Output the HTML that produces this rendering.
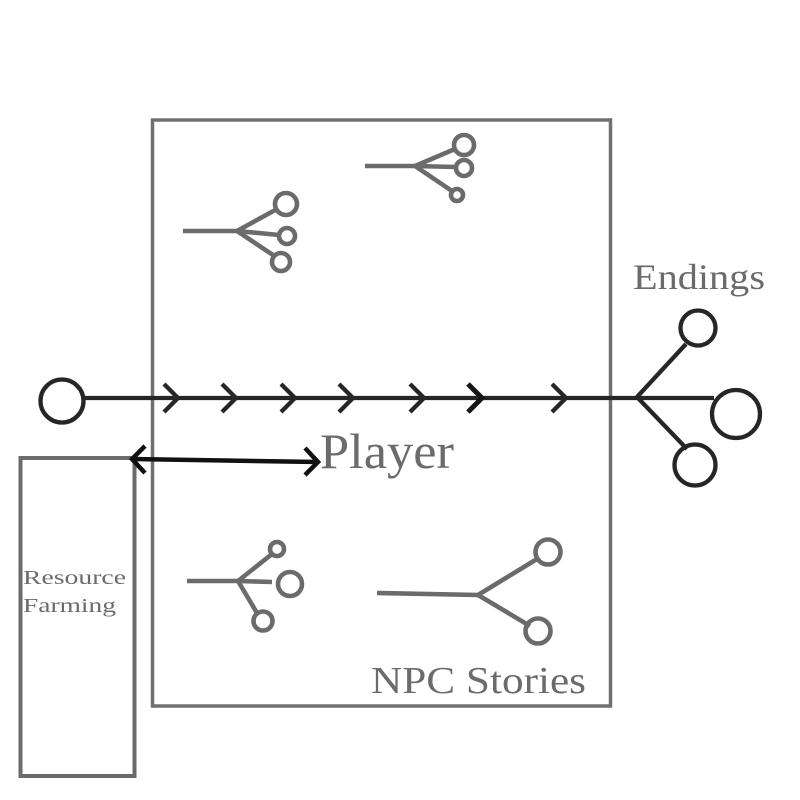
<!DOCTYPE html>
<html><head><meta charset="utf-8"><style>
html,body{margin:0;padding:0;background:#fff;}
svg{display:block;}
text{font-family:"Liberation Serif",serif;fill:#6b6b6b;}
</style></head><body>
<svg width="800" height="800" viewBox="0 0 800 800" xmlns="http://www.w3.org/2000/svg">
<rect x="0" y="0" width="800" height="800" fill="#fff"/>
<!-- main box -->
<rect x="152.5" y="120" width="458" height="586" fill="none" stroke="#707070" stroke-width="3.5"/>
<!-- resource box -->
<rect x="20.5" y="458" width="114" height="318" fill="none" stroke="#6b6b6b" stroke-width="4"/>
<text x="23" y="584" font-size="20" textLength="103" lengthAdjust="spacingAndGlyphs">Resource</text>
<text x="23" y="612" font-size="20" textLength="93" lengthAdjust="spacingAndGlyphs">Farming</text>

<!-- main timeline -->
<g stroke="#262626" stroke-width="4.3" fill="none" stroke-linecap="butt">
<circle cx="62" cy="401" r="21.5"/>
<line x1="84" y1="398" x2="714" y2="398"/>
<polyline points="164,384 178,398 164,412"/>
<polyline points="222,384 236,398 222,412"/>
<polyline points="281,384 295,398 281,412"/>
<polyline points="339,384 353,398 339,412"/>
<polyline points="410,384 424,398 410,412"/>
<polyline points="468,384 482,398 468,412" stroke-width="5" stroke="#161616"/>
<polyline points="552,384 566,398 552,412"/>
<!-- endings fork -->
<line x1="637" y1="397" x2="686" y2="344"/>
<line x1="637" y1="397" x2="687" y2="449"/>
<circle cx="698" cy="328" r="17.5"/>
<circle cx="736" cy="414" r="24"/>
<circle cx="695" cy="465" r="20.5"/>
</g>
<!-- double arrow -->
<g stroke="#111" stroke-width="4.5" fill="none">
<line x1="132" y1="459" x2="318" y2="462"/>
<polyline points="145,446 132,459 145,473"/>
<polyline points="305,448 318,462 305,475"/>
</g>
<text x="320" y="468" font-size="50" textLength="134" lengthAdjust="spacingAndGlyphs">Player</text>
<text x="633" y="289" font-size="36" textLength="132" lengthAdjust="spacingAndGlyphs">Endings</text>
<text x="371" y="693" font-size="38" textLength="215" lengthAdjust="spacingAndGlyphs">NPC Stories</text>

<!-- small forks -->
<g stroke="#6b6b6b" stroke-width="4.6" fill="none">
<!-- A -->
<line x1="183" y1="231" x2="237" y2="231"/>
<line x1="237" y1="231" x2="277" y2="209"/>
<line x1="237" y1="231" x2="279" y2="235"/>
<line x1="237" y1="231" x2="273" y2="255"/>
<circle cx="286" cy="204" r="11"/>
<circle cx="287" cy="236" r="8"/>
<circle cx="281" cy="262" r="9"/>
<!-- B -->
<line x1="365" y1="166" x2="415" y2="166"/>
<line x1="415" y1="166" x2="455" y2="149"/>
<line x1="415" y1="166" x2="456" y2="167"/>
<line x1="415" y1="166" x2="452" y2="191"/>
<circle cx="464" cy="145" r="10"/>
<circle cx="464" cy="168" r="8"/>
<circle cx="457" cy="195" r="6"/>
<!-- C -->
<line x1="187" y1="581" x2="238" y2="581"/>
<line x1="238" y1="581" x2="272" y2="554"/>
<line x1="238" y1="581" x2="272" y2="582"/>
<line x1="238" y1="581" x2="257" y2="613"/>
<circle cx="277" cy="549" r="7"/>
<circle cx="290" cy="584" r="12"/>
<circle cx="263" cy="621" r="9.5"/>
<!-- D -->
<line x1="377" y1="593" x2="478" y2="595"/>
<line x1="478" y1="595" x2="537" y2="559"/>
<line x1="478" y1="595" x2="530" y2="626"/>
<circle cx="548" cy="552" r="12.5"/>
<circle cx="538" cy="631" r="12.5"/>
</g>
</svg>
</body></html>
